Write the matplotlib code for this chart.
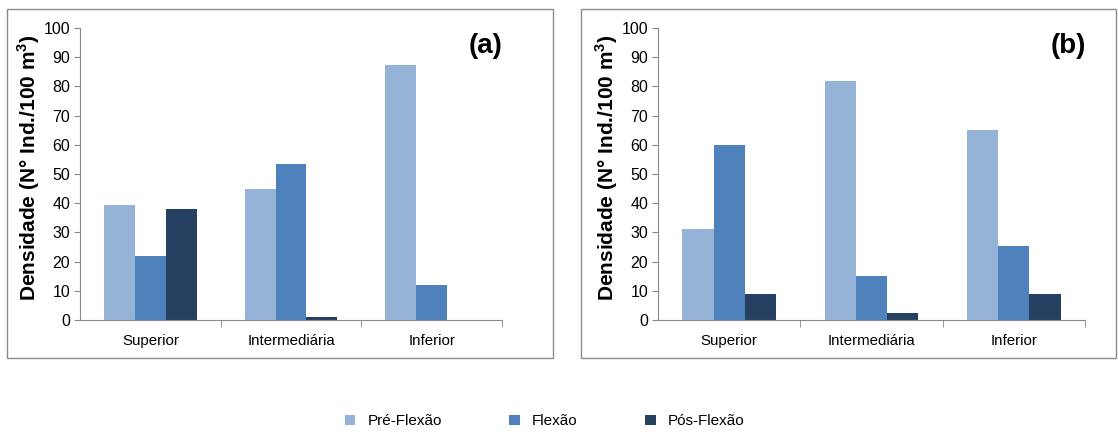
import numpy as np
import matplotlib.pyplot as plt
from matplotlib.patches import Rectangle

plt.rcParams['font.family'] = ['Liberation Sans', 'DejaVu Sans']

categories = ["Superior", "Intermediária", "Inferior"]
series = ["Pré-Flexão", "Flexão", "Pós-Flexão"]
colors = ["#95b3d7", "#4f81bd", "#254061"]

vals_a = [
    [39.5, 45, 87.5],   # Pré-Flexão
    [22, 53.5, 12],     # Flexão
    [38, 1, 0],         # Pós-Flexão
]
vals_b = [
    [31, 82, 65],
    [60, 15, 25.5],
    [9, 2.5, 9],
]

fig = plt.figure(figsize=(11.18, 4.32), dpi=100)
W, H = 1118, 432

# panel frames
for x0, x1 in [(7, 553), (581, 1116)]:
    fig.patches.append(Rectangle((x0 / W, 1 - 358 / H), (x1 - x0) / W, (358 - 9) / H,
                                 transform=fig.transFigure, fill=False,
                                 edgecolor="#8c8c8c", linewidth=1.0))

ax_a = fig.add_axes([80 / W, 1 - 320 / H, 422 / W, 292 / H])
ax_b = fig.add_axes([658 / W, 1 - 320 / H, 427 / W, 292 / H])

x = np.arange(len(categories))
w = 0.22
for ax, vals, tag in [(ax_a, vals_a, "(a)"), (ax_b, vals_b, "(b)")]:
    for i, (s, c) in enumerate(zip(series, colors)):
        ax.bar(x + (i - 1) * w, vals[i], width=w, color=c, label=s)
    ax.set_xlim(-0.5, 2.5)
    ax.set_ylim(0, 100)
    ax.set_yticks(range(0, 101, 10))
    ax.set_xticks(x)
    ax.set_xticklabels(categories, fontsize=10.8)
    ax.set_xticks([0.5, 1.5, 2.5], minor=True)
    ax.tick_params(axis="x", which="major", length=0, pad=10)
    ax.tick_params(axis="x", which="minor", length=5, color="#888888", direction="out")
    ax.tick_params(axis="y", length=4, color="#888888", labelsize=11.5, pad=3)
    for sp in ["top", "right"]:
        ax.spines[sp].set_visible(False)
    for sp in ["left", "bottom"]:
        ax.spines[sp].set_color("#888888")
    ax.set_ylabel("Densidade (N° Ind./100 m$^\\mathregular{3}$)", fontsize=15,
                  fontweight="bold")
    ax.yaxis.set_label_coords(-0.089, 0.52)
    ax.text(0.96, 0.94, tag, transform=ax.transAxes, fontsize=20,
            fontweight="bold", ha="center", va="center")

handles, labels = ax_a.get_legend_handles_labels()
fig.legend(handles, labels, loc="center", bbox_to_anchor=(0.487, 0.025), ncol=3,
           frameon=False, prop={"family": "Liberation Sans", "size": 11},
           handlelength=0.7, handleheight=0.7, columnspacing=4.4, handletextpad=0.8)

fig.savefig("out.png", dpi=100)
